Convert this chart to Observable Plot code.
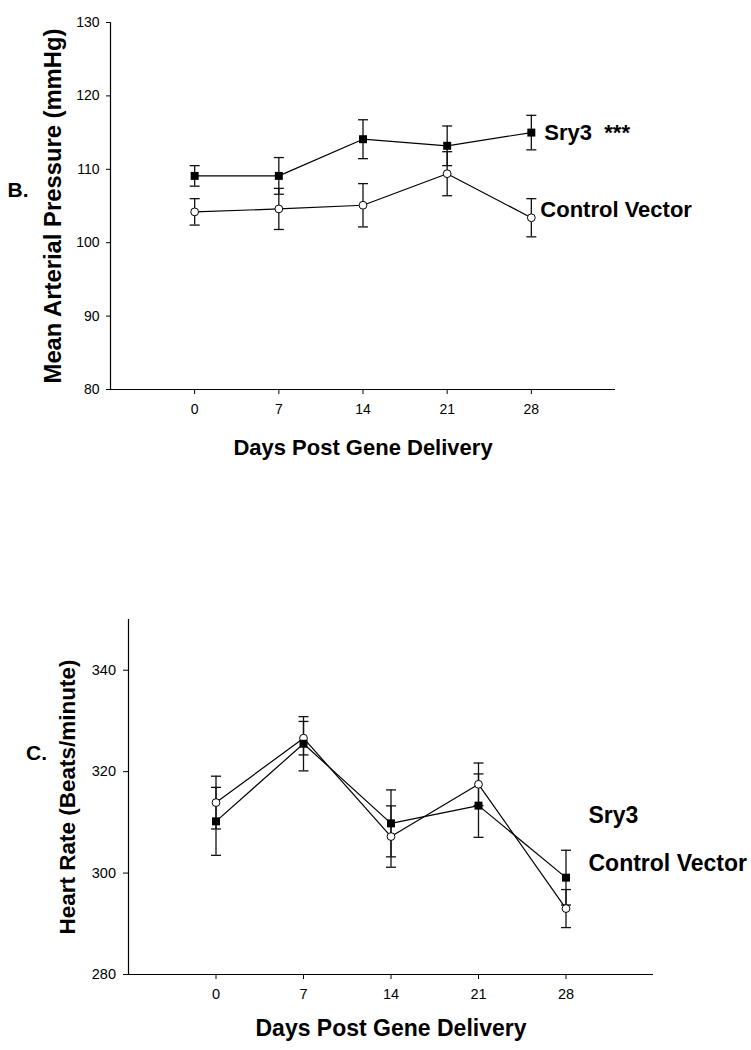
<!DOCTYPE html>
<html>
<head>
<meta charset="utf-8">
<script src="https://cdn.jsdelivr.net/npm/d3@7"></script>
<script src="https://cdn.jsdelivr.net/npm/@observablehq/plot@0.6"></script>
<style>
  html, body { margin: 0; padding: 0; background: #fff; }
  #chart { width: 751px; height: 1050px; position: relative; background: #fff; }
  #chart svg { display: block; }
</style>
</head>
<body>
<div id="chart"></div>
<script>
// ---------- data ----------
const days = [0, 7, 14, 21, 28];

// Panel B: Mean arterial pressure (mmHg)
const mapSry3 = [109.1, 109.1, 114.1, 113.2, 115.0];
const mapSry3Err = [1.4, 2.5, 2.65, 2.7, 2.35];
const mapControl = [104.2, 104.6, 105.1, 109.4, 103.4];
const mapControlErr = [1.8, 2.8, 2.95, 3.0, 2.6];
const mapTicks = [80, 90, 100, 110, 120, 130];

// Panel C: Heart rate (beats/minute)
const hrSry3 = [310.2, 325.5, 309.8, 313.3, 299.1];
const hrSry3Err = [6.7, 5.35, 6.6, 6.25, 5.4];
const hrControl = [313.9, 326.6, 307.2, 317.5, 293.0];
const hrControlErr = [5.2, 3.3, 6.05, 4.2, 3.75];
const hrTicks = [280, 300, 320, 340];
// legend label anchor values (data units) for panel C
const hrLabels = ["Sry3", "Control Vector"];
const hrLabelY = [311.3, 301.8];

const xTitle = "Days Post Gene Delivery";
const FONT = "'Liberation Sans', Arial, Helvetica, sans-serif";

// ---------- helpers ----------
const rows = (vals, errs, group) =>
  days.map((d, i) => ({day: d, v: vals[i], lo: vals[i] - errs[i], hi: vals[i] + errs[i], group}));

const capSymbol = {draw(ctx) { ctx.moveTo(-5, 0); ctx.lineTo(5, 0); }};

function errorMarks(data) {
  return [
    Plot.ruleX(data, {x: "day", y1: "lo", y2: "hi", stroke: "#111", strokeWidth: 1.3}),
    Plot.dot(data, {x: "day", y: "hi", symbol: capSymbol, stroke: "#111", strokeWidth: 1.3, fill: "none"}),
    Plot.dot(data, {x: "day", y: "lo", symbol: capSymbol, stroke: "#111", strokeWidth: 1.3, fill: "none"})
  ];
}

function panel(o) {
  const sry = rows(o.sry, o.sryErr, "Sry3");
  const ctl = rows(o.ctl, o.ctlErr, "Control Vector");
  return Plot.plot({
    width: 751,
    height: o.height,
    marginLeft: o.mL, marginRight: o.mR, marginTop: o.mT, marginBottom: o.mB,
    style: {fontFamily: FONT, background: "white", color: "black", overflow: "visible"},
    x: {domain: [-7, 35]},
    y: {domain: o.yDomain},
    marks: [
      Plot.axisX({ticks: days, tickSize: 5, tickPadding: o.xPad, tickFormat: d => d, label: null,
        fontSize: o.tickFont, fill: "black", stroke: "black"}),
      Plot.axisY({ticks: o.yTicks, tickSize: o.yTickSize, tickPadding: o.yPad, tickFormat: d => d, label: null,
        fontSize: o.tickFont, fill: "black", stroke: "black"}),
      Plot.ruleX([-7], {stroke: "black", strokeWidth: 1.2}),
      Plot.ruleY([o.yDomain[0]], {stroke: "black", strokeWidth: 1.2}),
      Plot.line(ctl, {x: "day", y: "v", stroke: "black", strokeWidth: 1.2}),
      Plot.line(sry, {x: "day", y: "v", stroke: "black", strokeWidth: 1.2}),
      ...errorMarks(ctl),
      ...errorMarks(sry),
      Plot.dot(ctl, {x: "day", y: "v", r: 3.9, fill: "white", stroke: "black", strokeWidth: 1}),
      Plot.dot(sry, {x: "day", y: "v", r: 4.5, symbol: "square", fill: "black", stroke: "none"}),
      // axis titles
      Plot.text([0], {frameAnchor: "bottom", dy: o.xTitleDy, text: () => xTitle, fontSize: o.titleFont,
        fontWeight: "bold", textAnchor: "middle", lineAnchor: "middle", fill: "black"}),
      Plot.text([0], {frameAnchor: "left", rotate: -90, dx: o.yTitleDx, text: () => o.yTitle, fontSize: o.yTitleFont,
        fontWeight: "bold", textAnchor: "middle", lineAnchor: "middle", fill: "black"}),
      // panel letter
      Plot.text([0], {frameAnchor: "top-left", dx: o.letterDx, dy: o.letterDy, text: () => o.letter, fontSize: o.letterFont,
        fontWeight: "bold", textAnchor: "middle", lineAnchor: "middle", fill: "black"}),
      ...o.labels
    ]
  });
}

// ---------- panel B ----------
const last = days.length - 1;
const svgB = panel({
  height: 470, mL: 110, mR: 136, mT: 22, mB: 81,
  tickFont: 14, xPad: 10, yTickSize: 4, yPad: 7,
  yDomain: [80, 130], yTicks: mapTicks,
  sry: mapSry3, sryErr: mapSry3Err, ctl: mapControl, ctlErr: mapControlErr,
  xTitleDy: 58, titleFont: 22,
  yTitle: "Mean Arterial Pressure (mmHg)", yTitleDx: -57.5, yTitleFont: 23.8,
  letter: "B.", letterDx: -92.5, letterDy: 168, letterFont: 21,
  labels: [
    Plot.text([{day: days[last], v: mapSry3[last], t: "Sry3\u00a0\u00a0***"}],
      {x: "day", y: "v", text: "t", dx: 13, textAnchor: "start", lineAnchor: "middle",
       fontSize: 22, fontWeight: "bold", fill: "black"}),
    Plot.text([{day: days[last], v: mapControl[last], t: "Control Vector"}],
      {x: "day", y: "v", text: "t", dx: 9, dy: -7.5, textAnchor: "start", lineAnchor: "middle",
       fontSize: 22, fontWeight: "bold", fill: "black"})
  ]
});

// ---------- panel C ----------
const svgC = panel({
  height: 580, mL: 128, mR: 98, mT: 149, mB: 76,
  tickFont: 14.5, xPad: 9, yTickSize: 5, yPad: 7.5,
  yDomain: [280, 350], yTicks: hrTicks,
  sry: hrSry3, sryErr: hrSry3Err, ctl: hrControl, ctlErr: hrControlErr,
  xTitleDy: 54, titleFont: 23,
  yTitle: "Heart Rate (Beats/minute)", yTitleDx: -60.5, yTitleFont: 22.5,
  letter: "C.", letterDx: -92, letterDy: 134, letterFont: 21,
  labels: [
    Plot.text(hrLabels.map((t, i) => ({day: days[last], v: hrLabelY[i], t})),
      {x: "day", y: "v", text: "t", dx: 22.5, textAnchor: "start", lineAnchor: "middle",
       fontSize: 23, fontWeight: "bold", fill: "black"})
  ]
});

const root = document.getElementById("chart");
root.appendChild(svgB);
root.appendChild(svgC);
</script>
</body>
</html>
